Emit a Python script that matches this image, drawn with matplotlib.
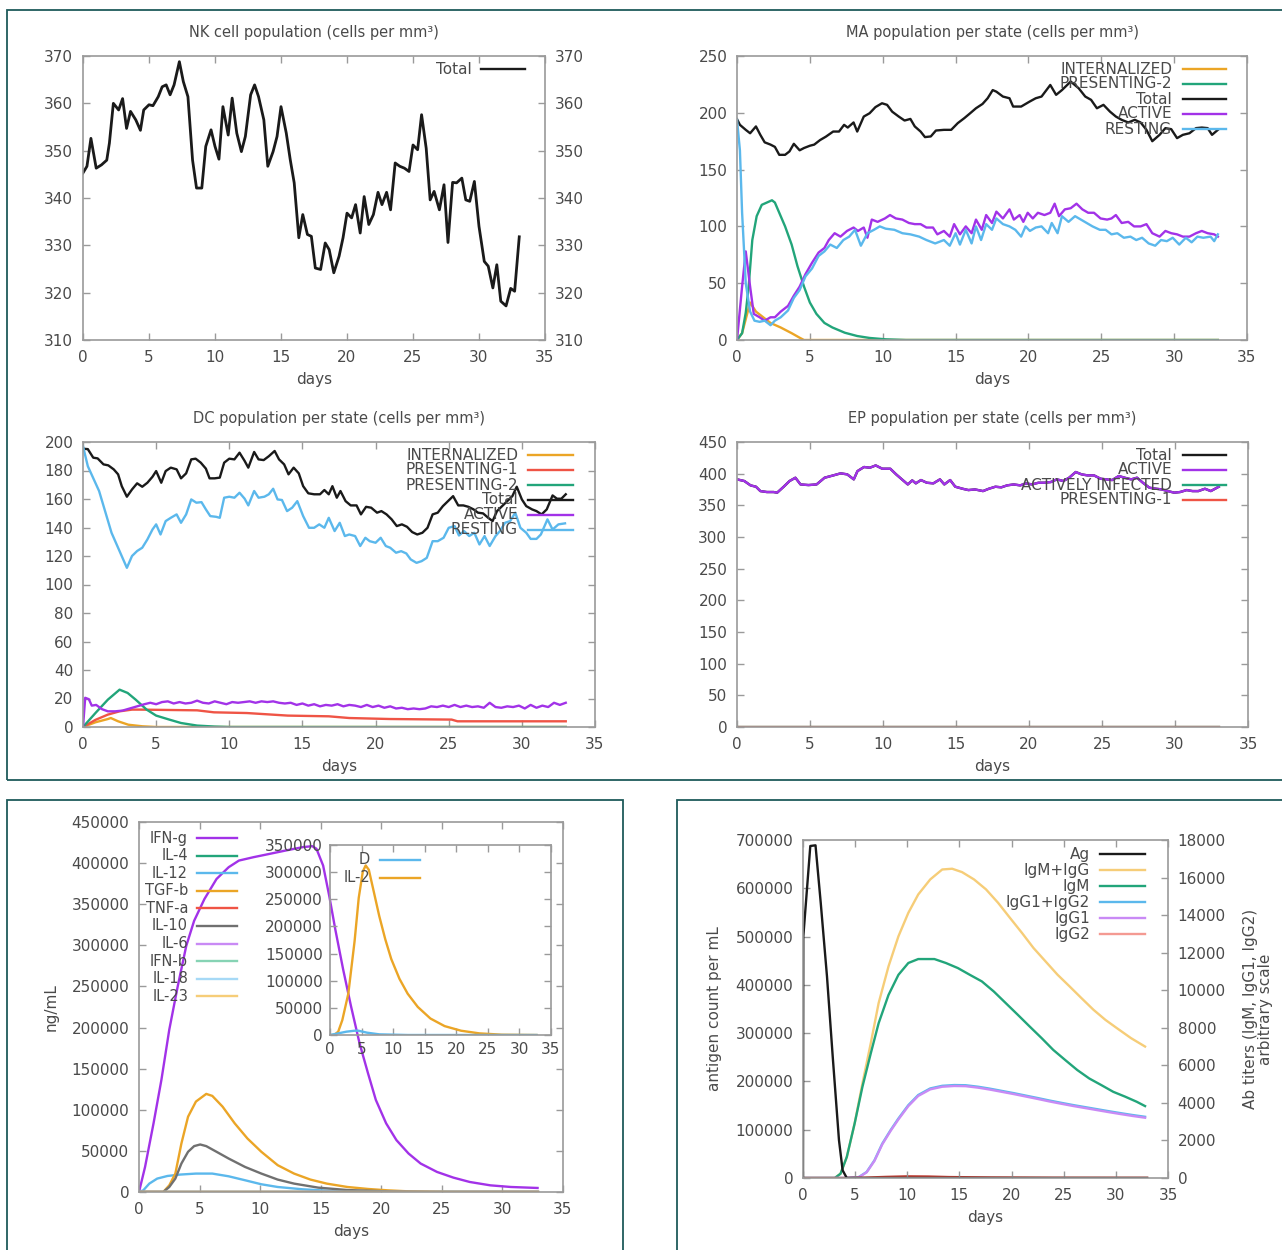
import matplotlib
matplotlib.use("Agg")
import matplotlib.pyplot as plt
from matplotlib.lines import Line2D
from matplotlib.patches import Rectangle
from matplotlib.ticker import FuncFormatter

# ---------------- NK cell population ----------------
nk_days = [0, 0.3, 0.6, 1.0, 1.4, 1.8, 2.0, 2.3, 2.7, 3.0, 3.3, 3.6, 4.0, 4.35, 4.6, 5.0, 5.3, 5.7,
           6.0, 6.3, 6.6, 6.9, 7.3, 7.6, 7.95, 8.3, 8.6, 9.0, 9.3, 9.7, 10.0, 10.3, 10.6, 11.0, 11.3,
           11.65, 12.0, 12.3, 12.7, 13.0, 13.3, 13.7, 14.0, 14.4, 14.7, 15.0, 15.4, 15.7, 16.0, 16.35,
           16.65, 17.0, 17.3, 17.6, 18.0, 18.35, 18.65, 19.0, 19.4, 19.7, 20.0, 20.35, 20.65, 21.0,
           21.3, 21.65, 22.0, 22.35, 22.65, 23.0, 23.3, 23.65, 24.0, 24.35, 24.7, 25.0, 25.35, 25.65,
           26.0, 26.3, 26.6, 27.0, 27.35, 27.65, 28.0, 28.3, 28.7, 29.0, 29.3, 29.65, 30.0, 30.4,
           30.7, 31.05, 31.35, 31.65, 32.05, 32.4, 32.7, 33.05]
nk_total = [345.3, 346.7, 352.6, 346.3, 347.0, 348.0, 351.6, 360.0, 358.6, 361.0, 354.7, 358.3,
            356.5, 354.3, 358.6, 359.7, 359.5, 361.4, 363.5, 363.9, 361.8, 363.9, 368.8, 364.6,
            361.4, 348.0, 342.1, 342.1, 350.9, 354.4, 350.9, 348.2, 359.3, 353.3, 361.1, 353.7,
            349.8, 353.0, 361.8, 363.9, 361.4, 356.5, 346.7, 349.8, 353.0, 359.3, 353.7, 348.1,
            343.2, 331.6, 336.5, 332.3, 331.9, 325.2, 324.9, 330.5, 329.1, 324.2, 327.7, 331.6,
            336.8, 335.8, 338.6, 332.6, 340.3, 334.4, 336.5, 341.2, 338.6, 341.2, 337.5, 347.4,
            346.7, 346.3, 345.6, 351.2, 350.2, 357.6, 350.5, 339.6, 341.4, 337.5, 342.8, 330.6,
            343.3, 343.2, 344.2, 339.6, 339.3, 343.5, 334.0, 326.6, 325.6, 321.0, 325.9, 318.2,
            317.2, 320.9, 320.3, 331.8]

# ---------------- MA population per state ----------------
ma_total_days = [0, 0.2, 0.6, 0.9, 1.3, 1.6, 1.9, 2.3, 2.6, 2.9, 3.3, 3.6, 3.9, 4.3, 4.6, 5.0, 5.3,
                 5.7, 6.1, 6.6, 7.0, 7.35, 7.6, 8.0, 8.25, 8.7, 9.1, 9.5, 9.95, 10.3, 10.65, 11.1,
                 11.5, 11.9, 12.2, 12.6, 12.9, 13.3, 13.65, 14.2, 14.7, 15.15, 15.6, 16.0, 16.4,
                 16.85, 17.2, 17.55, 17.8, 18.25, 18.7, 18.95, 19.5, 20.1, 20.5, 20.9, 21.5, 21.9,
                 22.3, 22.9, 23.45, 23.9, 24.3, 24.7, 25.15, 25.6, 26.0, 26.4, 26.85, 27.3, 27.7,
                 28.1, 28.5, 29.0, 29.4, 29.8, 30.2, 30.6, 31.05, 31.5, 31.9, 32.3, 32.6, 33.0]
ma_total = [194.4, 189.4, 185.0, 182.0, 188.0, 180.6, 174.0, 172.0, 170.0, 163.0, 163.0, 166.0,
            172.7, 167.0, 169.0, 171.0, 172.0, 176.0, 179.0, 183.5, 183.5, 189.4, 187.0, 191.5,
            183.5, 196.7, 199.6, 205.0, 208.4, 207.0, 201.0, 196.7, 193.2, 194.6, 188.0, 183.5,
            178.6, 179.2, 184.4, 185.0, 185.0, 190.9, 195.3, 199.6, 204.0, 207.8, 212.8, 220.0,
            218.6, 214.3, 212.8, 205.5, 205.5, 210.0, 212.8, 214.3, 224.5, 215.8, 220.0, 227.5,
            221.6, 214.3, 211.4, 204.0, 207.0, 201.0, 196.7, 193.8, 191.5, 193.8, 191.5, 185.0,
            175.0, 180.6, 186.5, 185.6, 177.7, 180.6, 182.0, 186.5, 187.0, 186.5, 180.6, 185.0]

ma_resting_days = [0, 0.2, 0.35, 0.6, 0.9, 1.2, 1.55, 1.9, 2.3, 2.6, 3.0, 3.5, 3.9, 4.3, 4.7, 5.15,
                   5.6, 6.0, 6.4, 6.85, 7.3, 7.7, 8.1, 8.5, 8.95, 9.4, 9.8, 10.2, 10.8, 11.35, 11.9,
                   12.5, 13.0, 13.6, 14.2, 14.6, 15.0, 15.3, 15.7, 16.1, 16.4, 16.75, 17.1, 17.5,
                   17.8, 18.25, 18.7, 19.1, 19.5, 19.8, 20.1, 20.5, 20.9, 21.35, 21.6, 22.0, 22.3,
                   22.75, 23.2, 23.6, 24.0, 24.4, 24.9, 25.3, 25.7, 26.1, 26.55, 27.0, 27.4, 27.8,
                   28.25, 28.7, 29.1, 29.5, 29.9, 30.35, 30.8, 31.2, 31.6, 32.0, 32.5, 32.75, 33.0]
ma_resting = [194, 167, 112, 50, 25, 17, 16, 17, 13, 17, 20, 26, 37, 44, 56, 63, 74, 78, 84, 81,
              88, 91, 97, 83, 94, 97, 100, 98, 97, 94, 93, 91, 88, 85, 88, 83, 94, 84, 97, 85, 100,
              88, 102, 97, 107, 102, 100, 97, 91, 100, 96, 99, 100, 94, 103, 94, 109, 104, 109, 106,
              103, 100, 97, 97, 93, 94, 90, 91, 88, 90, 85, 83, 88, 87, 90, 84, 90, 86, 91, 90, 91,
              87, 93]

ma_active_days = [0, 0.35, 0.6, 0.9, 1.15, 1.55, 1.9, 2.3, 2.6, 3.0, 3.5, 3.9, 4.3, 4.7, 5.15, 5.6,
                  6.0, 6.3, 6.7, 7.1, 7.55, 8.0, 8.3, 8.7, 8.95, 9.25, 9.65, 10.15, 10.5, 10.9,
                  11.35, 11.8, 12.2, 12.6, 13.0, 13.45, 13.75, 14.2, 14.6, 14.9, 15.3, 15.7, 16.1,
                  16.4, 16.8, 17.1, 17.5, 17.8, 18.25, 18.7, 19.0, 19.4, 19.65, 19.95, 20.3, 20.65,
                  21.1, 21.5, 21.8, 22.1, 22.5, 22.9, 23.3, 23.7, 24.1, 24.5, 24.95, 25.4, 25.7,
                  26.0, 26.4, 26.85, 27.25, 27.7, 28.1, 28.5, 29.0, 29.4, 29.8, 30.2, 30.6, 31.05,
                  31.5, 31.9, 32.3, 32.75, 33.0]
ma_active = [0, 47, 78, 47, 23, 20, 17, 20, 20, 25, 30, 39, 47, 58, 68, 77, 81, 88, 94, 91, 96, 99,
             96, 99, 90, 106, 104, 107, 110, 107, 106, 103, 102, 102, 99, 99, 93, 96, 91, 102, 93,
             100, 94, 106, 97, 110, 103, 113, 107, 115, 106, 110, 104, 112, 107, 112, 110, 112, 120,
             109, 115, 116, 120, 115, 112, 112, 107, 106, 107, 110, 103, 104, 100, 100, 102, 94, 91,
             96, 94, 93, 91, 91, 94, 96, 94, 93, 91]

ma_pres2_days = [0, 0.35, 0.6, 0.8, 1.05, 1.35, 1.7, 2.05, 2.4, 2.6, 2.9, 3.3, 3.75, 4.15, 4.6, 5.0,
                 5.45, 6.0, 6.55, 7.4, 8.25, 9.1, 10.2, 11.6, 33.0]
ma_pres2 = [0, 6, 24, 47, 88, 109, 119, 121, 123, 121, 112, 100, 84, 65, 47, 33, 23, 15, 11, 6.4,
            3.5, 1.8, 0.6, 0, 0]

ma_intern_days = [0, 0.35, 0.9, 1.3, 1.8, 2.3, 3.0, 3.75, 4.3, 4.6, 33.0]
ma_intern = [0, 6, 33, 25, 20, 15, 11, 6, 2, 0, 0]

# ---------------- DC population per state ----------------
dc_total_days = [0, 0.33, 0.7, 1.0, 1.4, 1.73, 2.1, 2.4, 2.65, 3.0, 3.35, 3.7, 4.05, 4.4, 4.75, 5.0,
                 5.35, 5.65, 6.0, 6.4, 6.7, 7.05, 7.4, 7.7, 8.05, 8.4, 8.65, 9.0, 9.35, 9.65, 10.0,
                 10.35, 10.7, 11.05, 11.3, 11.7, 12.0, 12.35, 12.7, 13.1, 13.4, 13.75, 14.05, 14.4,
                 14.75, 15.05, 15.4, 15.8, 16.2, 16.5, 16.8, 17.05, 17.35, 17.6, 17.95, 18.3, 18.7,
                 19.0, 19.35, 19.7, 20.1, 20.4, 20.75, 21.1, 21.45, 21.8, 22.15, 22.5, 22.85, 23.2,
                 23.55, 23.9, 24.25, 24.6, 24.95, 25.3, 25.65, 26.0, 26.35, 26.7, 27.0, 27.35, 27.7,
                 28.0, 28.3, 28.65, 29.0, 29.35, 29.65, 30.0, 30.3, 30.7, 31.0, 31.35, 31.7, 32.1,
                 32.4, 32.7, 33.0]
dc_total = [195.3, 195.0, 189.0, 188.5, 184.3, 183.6, 180.8, 177.3, 169.0, 161.6, 166.7, 171.0,
            168.6, 171.4, 175.6, 179.6, 171.4, 179.6, 182.0, 180.8, 174.5, 178.0, 187.8, 188.3,
            185.5, 181.3, 174.5, 174.5, 175.0, 185.5, 188.3, 187.8, 192.5, 186.7, 182.0, 193.0,
            187.8, 187.3, 190.0, 193.7, 187.8, 184.3, 177.3, 182.0, 178.0, 169.0, 164.0, 163.3,
            163.3, 166.3, 163.3, 169.0, 160.9, 165.6, 158.5, 155.5, 155.5, 149.2, 154.5, 153.9,
            150.4, 151.5, 149.2, 145.7, 141.0, 142.2, 140.5, 136.8, 135.1, 136.3, 139.8, 149.2,
            150.4, 155.0, 158.5, 162.0, 155.5, 155.5, 154.5, 152.7, 150.4, 149.9, 146.8, 144.5,
            151.5, 155.0, 158.5, 162.0, 168.6, 159.7, 155.0, 152.7, 151.5, 149.2, 152.7, 162.5,
            160.2, 160.2, 163.3]

dc_resting_days = [0, 0.33, 1.1, 1.95, 3.0, 3.35, 3.7, 4.05, 4.4, 4.75, 5.0, 5.3, 5.65, 6.0, 6.4,
                   6.7, 7.05, 7.4, 7.75, 8.1, 8.4, 8.7, 9.1, 9.35, 9.65, 10.0, 10.35, 10.7, 11.05,
                   11.3, 11.7, 12.0, 12.4, 12.7, 13.0, 13.3, 13.6, 13.95, 14.3, 14.65, 15.05, 15.45,
                   15.8, 16.15, 16.5, 16.8, 17.2, 17.55, 17.9, 18.2, 18.6, 18.95, 19.3, 19.6, 20.0,
                   20.35, 20.7, 21.0, 21.4, 21.75, 22.1, 22.4, 22.8, 23.15, 23.5, 23.9, 24.25, 24.65,
                   25.0, 25.4, 25.7, 26.05, 26.4, 26.75, 27.1, 27.45, 27.8, 28.2, 28.5, 28.85, 29.2,
                   29.55, 29.9, 30.3, 30.6, 31.0, 31.3, 31.75, 32.1, 32.5, 32.95]
dc_resting = [197.0, 183.0, 165.6, 136.3, 111.7, 120.0, 123.5, 125.8, 131.6, 138.6, 142.2, 135.1,
              144.5, 146.8, 149.2, 143.3, 149.2, 159.7, 157.4, 157.8, 152.7, 148.0, 147.5, 146.8,
              160.9, 161.6, 160.9, 164.4, 160.2, 155.5, 165.6, 160.9, 161.6, 163.3, 167.2, 159.7,
              159.3, 151.5, 153.9, 158.5, 148.0, 139.8, 139.8, 142.2, 139.8, 146.8, 137.5, 143.3,
              134.0, 135.1, 134.0, 127.0, 132.8, 130.4, 129.3, 132.8, 127.0, 125.8, 122.3, 123.4,
              121.8, 117.6, 115.2, 116.4, 118.7, 130.4, 130.4, 132.8, 139.8, 141.0, 134.4, 137.5,
              134.0, 136.3, 128.1, 134.0, 127.0, 134.0, 137.5, 143.3, 144.5, 150.4, 139.8, 136.3,
              132.0, 132.0, 135.1, 145.7, 138.6, 142.2, 142.9]

dc_active_days = [0, 0.15, 0.4, 0.6, 0.9, 1.3, 1.7, 2.2, 2.7, 3.2, 3.7, 4.2, 4.6, 5.0, 5.4, 5.8,
                  6.2, 6.6, 7.0, 7.4, 7.8, 8.2, 8.6, 9.0, 9.4, 9.8, 10.2, 10.6, 11.0, 11.4, 11.8,
                  12.2, 12.6, 13.0, 13.4, 13.8, 14.2, 14.6, 15.0, 15.4, 15.8, 16.2, 16.6, 17.0,
                  17.4, 17.8, 18.2, 18.6, 19.0, 19.4, 19.8, 20.2, 20.6, 21.0, 21.4, 21.8, 22.2,
                  22.6, 23.0, 23.4, 23.8, 24.2, 24.6, 25.0, 25.4, 25.8, 26.2, 26.6, 27.0, 27.4,
                  27.8, 28.2, 28.6, 29.0, 29.4, 29.8, 30.2, 30.6, 31.0, 31.4, 31.8, 32.2, 32.6, 33.0]
dc_active = [0, 20.5, 19.5, 15, 15.5, 12.5, 11, 11, 11.5, 13, 14.5, 16, 17, 16, 17.5, 18, 16.5,
             17.5, 16.5, 17, 18.5, 17, 16.5, 18, 17, 16, 17.5, 17, 17.5, 18, 17, 18, 17.5, 18, 17,
             16.5, 17, 15.5, 16.5, 15, 16, 14.5, 15.5, 15, 16, 14.5, 15.5, 15, 14, 15.5, 14, 15,
             13.5, 14.5, 13, 13.5, 12.5, 13, 12.5, 13, 14.5, 14, 15, 14, 15.5, 14, 15, 14, 14.5,
             13.5, 17, 14, 13.5, 14.5, 14, 15, 13, 15.5, 13.5, 15, 14, 17, 15.5, 17]

dc_pres1_days = [0, 0.85, 1.7, 2.5, 3.35, 3.9, 7.8, 8.95, 11.2, 14.0, 16.8, 18.2, 21.0, 25.2, 25.6,
                 28.0, 33.0]
dc_pres1 = [0, 5, 8.7, 11, 12.2, 12.2, 11.7, 10.3, 9.8, 8, 7.5, 6.3, 5.6, 5.2, 4.0, 4.0, 4.0]

dc_pres2_days = [0, 0.85, 1.7, 2.5, 3.05, 3.6, 4.35, 5.0, 5.9, 6.7, 7.8, 9.0, 10.0, 33.0]
dc_pres2 = [0, 9.8, 19.2, 26.2, 23.9, 19.2, 12.2, 8, 5.2, 2.8, 1, 0.3, 0, 0]

dc_intern_days = [0, 0.85, 1.7, 1.9, 2.4, 3.1, 4.05, 5.0, 33.0]
dc_intern = [0, 3.3, 5.6, 6.3, 4, 1.6, 0.5, 0, 0]

# ---------------- EP population per state ----------------
ep_days = [0, 0.5, 0.93, 1.3, 1.6, 2.05, 2.5, 2.75, 3.2, 3.6, 4.0, 4.35, 4.9, 5.45, 6.0, 6.6, 7.1,
           7.55, 8.0, 8.25, 8.7, 9.1, 9.5, 9.95, 10.5, 10.9, 11.35, 11.7, 12.0, 12.25, 12.6, 13.0,
           13.45, 13.9, 14.2, 14.6, 14.95, 15.45, 15.85, 16.3, 16.85, 17.25, 17.7, 18.1, 18.5,
           18.95, 19.4, 19.8, 20.2, 20.65, 21.05, 21.5, 21.9, 22.35, 22.75, 23.2, 23.6, 24.0,
           24.45, 24.9, 25.3, 25.7, 26.15, 26.55, 27.0, 27.4, 27.8, 28.25, 28.7, 29.1, 29.5,
           29.95, 30.35, 30.8, 31.2, 31.6, 32.05, 32.45, 33.0]
ep_active = [391, 388.4, 381.5, 379.4, 372.5, 371, 371, 370, 379.4, 388.4, 393.6, 383, 382, 383,
             393.6, 397.3, 400.5, 398.9, 391, 404, 410.5, 409.4, 413, 407.8, 407.8, 398.9, 389.9,
             383, 389.4, 384.7, 389.9, 385.7, 384.7, 391, 383, 389.9, 379.4, 376.2, 374.1, 375.1,
             372.5, 376.2, 379.4, 378.4, 381.5, 383, 381.5, 384.7, 383, 385.7, 385.7, 386.8, 391,
             388.4, 393.6, 402.6, 398.9, 397.3, 397.3, 392, 391, 389.9, 396.3, 393.6, 391, 393.6,
             385.7, 377.8, 376.2, 375.1, 372.5, 370, 371, 374.1, 372.5, 372.5, 376.2, 372.5, 379.4]
ep_zero_days = [0, 33.0]
ep_zero = [0, 0]

# ---------------- Cytokines (ng/mL) ----------------
ifng_days = [0, 0.5, 1.2, 1.85, 2.5, 3.2, 3.9, 4.55, 5.4, 6.4, 7.4, 8.25, 9.45, 10.8, 12.1, 13.5,
             14.3, 14.65, 15.2, 15.7, 16.2, 16.85, 17.5, 18.2, 18.9, 19.55, 20.4, 21.25, 22.25,
             23.25, 24.6, 25.95, 27.3, 29.0, 30.7, 32.9]
ifng = [0, 30500, 83500, 136400, 197500, 250400, 299300, 329800, 356300, 380700, 395000, 403100,
        407200, 411300, 415300, 419400, 420600, 417400, 397000, 360400, 319700, 270800, 226000,
        181200, 144600, 112000, 83500, 63100, 46800, 34600, 24400, 17500, 12200, 8100, 6100, 4900]

tgfb_days = [0, 2.0, 2.5, 3.0, 3.5, 4.05, 4.7, 5.55, 6.05, 6.9, 7.9, 8.95, 10.1, 11.45, 12.8,
             14.15, 15.5, 17.2, 18.9, 20.55, 22.25, 25.6, 32.9]
tgfb = [0, 0, 8100, 22400, 59000, 91600, 110000, 119300, 116900, 103800, 83500, 65100, 48900,
        32600, 22400, 15100, 10200, 6100, 3700, 2000, 800, 0, 0]

il10_days = [0, 2.0, 2.5, 3.0, 3.5, 4.05, 4.55, 5.05, 5.55, 6.4, 7.4, 8.75, 10.1, 11.45, 12.8,
             14.8, 17.2, 20.55, 24.0, 32.9]
il10 = [0, 0, 6100, 16300, 34600, 48900, 55800, 57800, 55800, 48900, 40700, 30500, 22400, 15100,
        10200, 5300, 2400, 800, 0, 0]

il12_days = [0, 0.35, 0.85, 1.5, 2.35, 3.4, 4.7, 6.05, 7.4, 8.75, 10.1, 11.45, 13.5, 15.5, 18.9,
             32.9]
il12 = [0, 2000, 10200, 16300, 19500, 21200, 22400, 22400, 19100, 14300, 9400, 6100, 3300, 1600,
        400, 0]

cyto_zero_days = [0, 32.9]
cyto_zero = [0, 0]

il2_days = [0, 0.65, 1.3, 1.95, 2.9, 3.9, 4.55, 5.2, 5.65, 6.15, 6.8, 7.8, 8.75, 9.7, 11.0, 12.3,
            13.9, 15.9, 18.15, 20.75, 23.65, 27.2, 32.7]
il2 = [0, 0, 6100, 27400, 76100, 173500, 252600, 301300, 312300, 304300, 270900, 219100, 176500,
       140000, 103500, 76100, 51700, 30400, 16400, 7900, 3000, 600, 0]

d_days = [0, 1.3, 2.6, 3.9, 4.5, 5.85, 7.8, 12.3, 32.7]
d_vals = [0, 3000, 6100, 7900, 7900, 4300, 1200, 0, 0]

cyto_labels = ["IFN-g", "IL-4", "IL-12", "TGF-b", "TNF-a", "IL-10", "IL-6", "IFN-b", "IL-18", "IL-23"]
inset_labels = ["D", "IL-2"]

# ---------------- Antigen and antibody titers ----------------
ag_days = [0, 0.03, 0.7, 1.2, 1.7, 2.3, 2.85, 3.45, 3.8, 4.2, 33.0]
ag = [0, 500000, 687600, 689000, 570000, 417500, 251400, 78300, 15900, 0, 0]

igmg_days = [0, 3.05, 3.6, 4.2, 4.95, 5.7, 6.5, 7.25, 8.2, 9.15, 10.1, 11.05, 12.2, 13.35, 14.3,
             15.25, 16.4, 17.55, 18.7, 19.85, 21.0, 22.1, 23.25, 24.4, 25.55, 26.7, 27.85, 29.0,
             30.1, 31.45, 32.8]
igm_igg = [0, 0, 230, 1120, 2900, 5040, 7180, 9310, 11270, 12870, 14120, 15100, 15900, 16430,
           16470, 16290, 15900, 15370, 14660, 13850, 13050, 12250, 11540, 10830, 10210, 9580,
           8960, 8420, 7980, 7450, 7000]

igm_days = [0, 3.05, 3.6, 4.2, 4.95, 5.7, 6.5, 7.25, 8.2, 9.15, 10.1, 11.05, 12.6, 13.7, 14.85,
            16.0, 17.15, 18.3, 19.45, 20.6, 21.75, 22.9, 24.0, 25.15, 26.3, 27.45, 28.6, 29.75,
            30.9, 32.0, 32.8]
igm = [0, 0, 230, 1120, 2900, 4860, 6640, 8240, 9750, 10820, 11450, 11660, 11660, 11450, 11180,
       10820, 10470, 9930, 9310, 8690, 8060, 7440, 6820, 6280, 5750, 5300, 4950, 4590, 4330,
       4060, 3830]

igg_days = [0, 4.2, 5.35, 6.1, 6.85, 7.6, 8.4, 9.15, 10.1, 11.05, 12.2, 13.35, 14.5, 15.6, 16.8,
            17.9, 19.05, 20.2, 21.35, 22.5, 23.6, 24.8, 25.95, 27.1, 28.25, 29.4, 30.5, 31.65, 32.8]
igg1_igg2 = [0, 0, 50, 320, 940, 1830, 2550, 3170, 3880, 4420, 4770, 4910, 4950, 4940, 4860, 4760,
             4640, 4520, 4390, 4260, 4130, 4000, 3880, 3770, 3660, 3550, 3450, 3350, 3260]
igg1 = [0, 0, 40, 300, 910, 1790, 2510, 3120, 3830, 4370, 4720, 4860, 4900, 4890, 4810, 4710,
        4590, 4470, 4340, 4210, 4080, 3950, 3830, 3720, 3610, 3500, 3400, 3300, 3210]

igg2_days = [0, 4.0, 6.0, 8.0, 10.0, 12.0, 14.0, 18.0, 24.0, 33.0]
igg2 = [0, 0, 20, 60, 90, 80, 50, 30, 15, 10]

ab_labels = ["Ag", "IgM+IgG", "IgM", "IgG1+IgG2", "IgG1", "IgG2"]

# ---------------- styling ----------------
W, H = 1282, 1250
PURPLE = "#a232e8"
GREEN = "#22a57a"
BLUE = "#5bb8ec"
ORANGE = "#eba526"
RED = "#ef5445"
BLACK = "#1a1a1a"
GRAY = "#707070"
L_PURPLE = "#c98af5"
L_GREEN = "#86d3b4"
L_BLUE = "#a6d9f6"
L_ORANGE = "#f6cd78"
L_RED = "#f49a92"
TXT = "#4a4a4a"
AXC = "#9a9a9a"
FRAME = "#1f5a5a"
LW = 1.7
TICK_FS = 11

plt.rcParams["font.family"] = ["DejaVu Sans"]

fig = plt.figure(figsize=(W / 100, H / 100), dpi=100)
fig.patch.set_facecolor("white")


def fx(px):
    return px / W


def fy(py):
    return 1 - py / H


def make_axes(l, t, r, b):
    ax = fig.add_axes([fx(l), fy(b), (r - l) / W, (b - t) / H])
    for s in ax.spines.values():
        s.set_color(AXC)
        s.set_linewidth(1.2)
    ax.tick_params(direction="in", length=5, width=1, color=AXC, labelcolor=TXT,
                   labelsize=TICK_FS, top=True, right=True, pad=7)
    return ax


def key(labels, colors, x_text, x0, x1, y0, dy, size=11, lw=LW):
    for i, (lab, c) in enumerate(zip(labels, colors)):
        y = y0 + i * dy
        fig.text(fx(x_text), fy(y), lab, ha="right", va="center", fontsize=size, color=TXT,
                 zorder=5)
        fig.add_artist(Line2D([fx(x0), fx(x1)], [fy(y), fy(y)], color=c, lw=lw,
                              transform=fig.transFigure, zorder=5))


def days_axis(ax):
    ax.set_xlim(0, 35)
    ax.set_xticks(range(0, 36, 5))
    ax.set_xlabel("days", fontsize=11, color=TXT, labelpad=5)


# panel frames
fig.add_artist(Rectangle((fx(7), fy(780)), fx(1300 - 7), (780 - 10) / H, fill=False,
                         edgecolor=FRAME, lw=1.3, transform=fig.transFigure))
fig.add_artist(Rectangle((fx(7), fy(1270)), fx(623 - 7), (1270 - 800) / H, fill=False,
                         edgecolor=FRAME, lw=1.3, transform=fig.transFigure))
fig.add_artist(Rectangle((fx(677), fy(1270)), fx(1300 - 677), (1270 - 800) / H, fill=False,
                         edgecolor=FRAME, lw=1.3, transform=fig.transFigure))

# NK
ax = make_axes(83, 56, 545, 340)
ax.plot(nk_days, nk_total, color=BLACK, lw=LW + 0.3)
days_axis(ax)
ax.set_ylim(310, 370)
ax.set_yticks(range(310, 371, 10))
ax.tick_params(labelright=True)
ax.set_title("NK cell population (cells per mm³)", fontsize=10.5, color=TXT, pad=14)
key(["Total"], [BLACK], 472, 481, 525, 69, 15)

# MA
ax = make_axes(737, 56, 1247, 340)
ax.plot(ma_intern_days, ma_intern, color=ORANGE, lw=LW)
ax.plot(ma_pres2_days, ma_pres2, color=GREEN, lw=LW)
ax.plot(ma_total_days, ma_total, color=BLACK, lw=LW)
ax.plot(ma_active_days, ma_active, color=PURPLE, lw=LW)
ax.plot(ma_resting_days, ma_resting, color=BLUE, lw=LW)
days_axis(ax)
ax.set_ylim(0, 250)
ax.set_yticks(range(0, 251, 50))
ax.set_title("MA population per state (cells per mm³)", fontsize=10.5, color=TXT, pad=14)
key(["INTERNALIZED", "PRESENTING-2", "Total", "ACTIVE", "RESTING"],
    [ORANGE, GREEN, BLACK, PURPLE, BLUE], 1172, 1183, 1226, 69, 15)

# DC
ax = make_axes(83, 442, 595, 727)
ax.plot(dc_intern_days, dc_intern, color=ORANGE, lw=LW)
ax.plot(dc_pres1_days, dc_pres1, color=RED, lw=LW)
ax.plot(dc_pres2_days, dc_pres2, color=GREEN, lw=LW)
ax.plot(dc_total_days, dc_total, color=BLACK, lw=LW)
ax.plot(dc_active_days, dc_active, color=PURPLE, lw=LW)
ax.plot(dc_resting_days, dc_resting, color=BLUE, lw=LW)
days_axis(ax)
ax.set_ylim(0, 200)
ax.set_yticks(range(0, 201, 20))
ax.set_title("DC population per state (cells per mm³)", fontsize=10.5, color=TXT, pad=14)
key(["INTERNALIZED", "PRESENTING-1", "PRESENTING-2", "Total", "ACTIVE", "RESTING"],
    [ORANGE, RED, GREEN, BLACK, PURPLE, BLUE], 518, 528, 573, 455, 15)

# EP
ax = make_axes(737, 442, 1248, 727)
ax.plot(ep_days, ep_active, color=BLACK, lw=LW)
ax.plot(ep_days, ep_active, color=PURPLE, lw=LW)
ax.plot(ep_zero_days, ep_zero, color=GREEN, lw=LW)
ax.plot(ep_zero_days, ep_zero, color=RED, lw=LW, alpha=0.8)
days_axis(ax)
ax.set_ylim(0, 450)
ax.set_yticks(range(0, 451, 50))
ax.set_title("EP population per state (cells per mm³)", fontsize=10.5, color=TXT, pad=14)
key(["Total", "ACTIVE", "ACTIVELY INFECTED", "PRESENTING-1"],
    [BLACK, PURPLE, GREEN, RED], 1172, 1183, 1226, 455, 15)

# Cytokines
plain = FuncFormatter(lambda v, p: f"{int(round(v))}")
ax = make_axes(139, 822, 563, 1192)
cyto_colors = [PURPLE, GREEN, BLUE, ORANGE, RED, GRAY, L_PURPLE, L_GREEN, L_BLUE, L_ORANGE]
ax.plot(ifng_days, ifng, color=PURPLE, lw=LW)
ax.plot(cyto_zero_days, cyto_zero, color=GREEN, lw=LW)
ax.plot(il12_days, il12, color=BLUE, lw=LW)
ax.plot(tgfb_days, tgfb, color=ORANGE, lw=LW)
ax.plot(cyto_zero_days, cyto_zero, color=RED, lw=LW)
ax.plot(il10_days, il10, color=GRAY, lw=LW)
ax.plot(cyto_zero_days, cyto_zero, color=L_PURPLE, lw=LW)
ax.plot(cyto_zero_days, cyto_zero, color=L_GREEN, lw=LW)
ax.plot(cyto_zero_days, cyto_zero, color=L_BLUE, lw=LW)
ax.plot(cyto_zero_days, cyto_zero, color="#d99a3a", lw=LW)
days_axis(ax)
ax.set_ylim(0, 450000)
ax.set_yticks(range(0, 450001, 50000))
ax.yaxis.set_major_formatter(plain)
ax.set_ylabel("ng/mL", fontsize=11, color=TXT, labelpad=9)
key(cyto_labels, cyto_colors, 188, 197, 237, 838, 17.6, size=10.5)

ins = make_axes(330, 845, 551, 1035)
ins.set_facecolor("none")
ins.plot(il2_days, il2, color=ORANGE, lw=LW)
ins.plot(d_days, d_vals, color=BLUE, lw=LW)
ins.set_xlim(0, 35)
ins.set_xticks(range(0, 36, 5))
ins.set_ylim(0, 350000)
ins.set_yticks(range(0, 350001, 50000))
ins.yaxis.set_major_formatter(plain)
ins.tick_params(pad=5)
key(inset_labels, [BLUE, ORANGE], 370, 380, 420, 860, 18, size=10.5)

# Antigen / antibodies
ax = make_axes(803, 840, 1168, 1178)
ax.tick_params(right=False)
ax2 = ax.twinx()
ax2.set_ylim(0, 18000)
ax2.set_yticks(range(0, 18001, 2000))
ax2.tick_params(direction="in", length=5, width=1, color=AXC, labelcolor=TXT,
                labelsize=TICK_FS, pad=7)
for s in ax2.spines.values():
    s.set_visible(False)
ax2.plot(igmg_days, igm_igg, color=L_ORANGE, lw=LW)
ax2.plot(igm_days, igm, color=GREEN, lw=LW)
ax2.plot(igg_days, igg1_igg2, color=BLUE, lw=LW)
ax2.plot(igg_days, igg1, color=L_PURPLE, lw=LW)
ax2.plot(igg2_days, igg2, color="#c0443a", lw=LW)
ax.plot(ag_days, ag, color=BLACK, lw=LW)
ax.set_zorder(ax2.get_zorder() + 1)
ax.patch.set_visible(False)
days_axis(ax)
ax.set_ylim(0, 700000)
ax.set_yticks(range(0, 700001, 100000))
ax.yaxis.set_major_formatter(plain)
ax.set_ylabel("antigen count per mL", fontsize=11, color=TXT, labelpad=10)
ax2.set_ylabel("Ab titers (IgM, IgG1, IgG2)\narbitrary scale", fontsize=11, color=TXT,
               labelpad=12, linespacing=1.0)
key(ab_labels, [BLACK, L_ORANGE, GREEN, BLUE, L_PURPLE, L_RED], 1090, 1100, 1145, 854, 16)

fig.savefig("out.png", dpi=100, facecolor="white")
